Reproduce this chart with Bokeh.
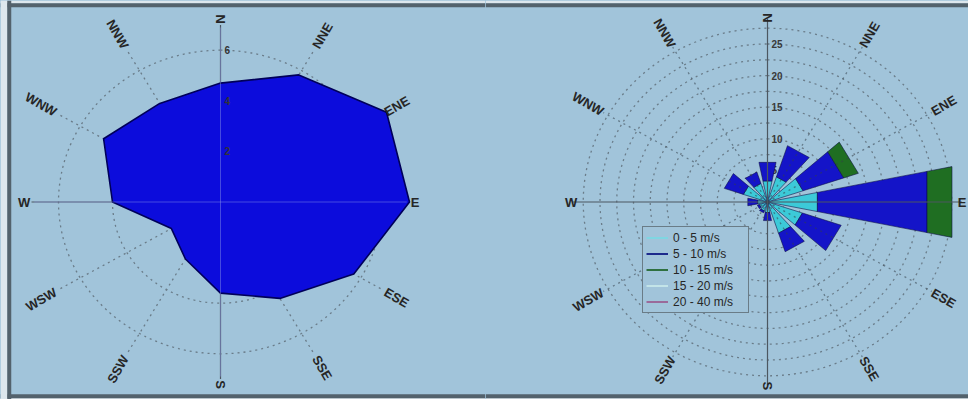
import numpy as np
from bokeh.plotting import figure
from bokeh.layouts import row
from bokeh.models import Span, Legend, LegendItem, Range1d, ColumnDataSource, BoxAnnotation
from bokeh.embed import file_html
from bokeh.resources import INLINE
from bokeh.core.properties import value

# ---------------- data ----------------
directions = ["N", "NNE", "ENE", "E", "ESE", "SSE", "S", "SSW", "WSW", "W", "WNW", "NNW"]
dir_deg = [0, 30, 60, 90, 120, 150, 180, 210, 240, 270, 300, 330]

# left rose: mean value per direction
mean_speed = [4.7, 5.8, 7.1, 7.0, 5.7, 4.4, 3.6, 2.6, 2.1, 4.0, 5.0, 4.5]
left_rings = [2, 4, 6]
left_ring_text = ["2", "4", "6"]

# right rose: frequency (%) per speed bin, stacked
speed_bins = ["0 - 5 m/s", "5 - 10 m/s", "10 - 15 m/s", "15 - 20 m/s", "20 - 40 m/s"]
freq_0_5 = [3.4, 4.2, 5.6, 7.6, 5.5, 5.2, 1.7, 1.5, 1.3, 1.5, 3.8, 3.1]
freq_5_10 = [3.0, 5.2, 6.4, 16.7, 6.1, 3.1, 1.3, 0.3, 0.3, 1.5, 3.0, 1.9]
freq_10_15 = [0, 0, 2.3, 3.8, 0, 0, 0, 0, 0, 0, 0, 0]
freq_15_20 = [0, 0, 0, 0, 0, 0, 0, 0, 0, 0, 0, 0]
freq_20_40 = [0, 0, 0, 0, 0, 0, 0, 0, 0, 0, 0, 0]
right_rings = [2.5, 5, 7.5, 10, 12.5, 15, 17.5, 20, 22.5, 25, 27.5]
right_ring_vals = [5, 10, 15, 20, 25]
right_ring_text = ["5", "10", "15", "20", "25"]

# ---------------- style ----------------
BG = "#a1c4da"
PAGE = "#dde7ed"
GRID = "#6a7c89"
AXIS = "#4c5761"
FRAME = "#53626c"
TXT = "#262626"
FONT = value("Liberation Sans")
bin_colors = ["#3ccad8", "#1414c8", "#1f6e22", "#b7e6e6", "#c070c0"]
legend_colors = ["#7fd6e2", "#1d2a8c", "#2f7040", "#c3e4e8", "#9a6a9a"]

H = 399


def make_fig(width, sx, sy, cx_px, cy_px):
    xr = Range1d(-cx_px / sx, (width - cx_px) / sx)
    yr = Range1d(-(H - cy_px) / sy, cy_px / sy)
    p = figure(width=width, height=H, x_range=xr, y_range=yr,
               x_axis_type=None, y_axis_type=None,
               output_backend="svg", toolbar_location=None,
               min_border=0, styles={"background-color": BG})
    p.outline_line_color = None
    p.background_fill_color = BG
    p.border_fill_color = BG
    # page strips outside the frame line
    p.add_layout(BoxAnnotation(bottom=yr.end - 3 / sy, fill_color=PAGE, fill_alpha=1,
                               line_color=None))
    p.add_layout(BoxAnnotation(top=yr.start + 1.5 / sy, fill_color=PAGE, fill_alpha=1,
                               line_color=None))
    p.add_layout(Span(location=yr.end - 4.75 / sy, dimension="width",
                      line_color=FRAME, line_width=4))
    p.add_layout(Span(location=yr.start + 3.25 / sy, dimension="width",
                      line_color=FRAME, line_width=4))
    return p


def rings(p, radii, color, alpha=1.0):
    t = np.linspace(0, 2 * np.pi, 361)
    p.multi_line([list(r * np.sin(t)) for r in radii],
                 [list(r * np.cos(t)) for r in radii],
                 line_color=color, line_width=1.3, line_dash="2 4", line_alpha=alpha)


def spokes(p, R, color, alpha=1.0):
    diag = [d for d in dir_deg if d % 90 != 0]
    p.multi_line([[0, R * np.sin(np.radians(d))] for d in diag],
                 [[0, R * np.cos(np.radians(d))] for d in diag],
                 line_color=color, line_width=1.3, line_dash="2 4", line_alpha=alpha)


def axes(p, R, color, alpha=1.0, width=1.2):
    p.multi_line([[-R, R], [0, 0]], [[0, 0], [-R, R]],
                 line_color=color, line_width=width, line_alpha=alpha)


def dir_labels(p, R, size="13px"):
    right = [(n, d) for n, d in zip(directions, dir_deg) if d <= 180]
    left = [(n, d) for n, d in zip(directions, dir_deg) if d > 180]
    for grp, align, off in ((right, "left", 0), (left, "right", 180)):
        src = ColumnDataSource(dict(
            x=[R * np.sin(np.radians(d)) for _, d in grp],
            y=[R * np.cos(np.radians(d)) for _, d in grp],
            t=[n for n, _ in grp],
            a=[np.radians(90 - d - off) for _, d in grp]))
        p.text(x="x", y="y", text="t", angle="a", source=src,
               text_align=align, text_baseline="middle",
               text_font=FONT, text_font_style="bold",
               text_font_size=size, text_color=TXT)


# ---------------- left rose ----------------
sxL, syL = 27.0, 25.3
pL = make_fig(485, sxL, syL, 220, 201.5)
pL.add_layout(BoxAnnotation(right=pL.x_range.start + 7 / sxL, fill_color=PAGE, fill_alpha=1,
                            line_color=None))
pL.add_layout(Span(location=pL.x_range.start + 8.75 / sxL, dimension="height",
                   line_color=FRAME, line_width=4))
rings(pL, left_rings, GRID)
spokes(pL, 6.9, GRID)
axes(pL, 7.0, AXIS)
th = np.radians(dir_deg)
pL.patch(list(np.array(mean_speed) * np.sin(th)), list(np.array(mean_speed) * np.cos(th)),
         fill_color="#0c0cdc", line_color="#00005a", line_width=1.6)
axes(pL, 6.9, "#8a96e6", alpha=0.45, width=1.0)
pL.text(x=[0] * len(left_rings), y=left_rings, text=left_ring_text,
        x_offset=4, text_align="left", text_baseline="middle",
        text_font=FONT, text_font_style="bold", text_font_size="10px", text_color="#333333")
dir_labels(pL, 7.05)

# ---------------- right rose ----------------
sxR, syR = 6.7, 6.32
pR = make_fig(483, sxR, syR, 282, 201.5)
rings(pR, right_rings, GRID)
pR.text(x=[0] * len(right_ring_vals), y=right_ring_vals, text=right_ring_text,
        x_offset=4, text_align="left", text_baseline="middle",
        text_font=FONT, text_font_style="bold", text_font_size="10px", text_color="#3a3a3a")

series = [freq_0_5, freq_5_10, freq_10_15, freq_15_20, freq_20_40]
hw = np.radians(11.5)
cum = np.zeros(len(dir_deg))
for vals, col in zip(series, bin_colors):
    xs, ys = [], []
    for i, d in enumerate(dir_deg):
        r0, r1 = cum[i], cum[i] + vals[i]
        if r1 > r0:
            a = np.radians(d)
            angs = [a - hw, a - hw, a + hw, a + hw]
            rads = [r0, r1, r1, r0]
            xs.append([r * np.sin(q) for r, q in zip(rads, angs)])
            ys.append([r * np.cos(q) for r, q in zip(rads, angs)])
    cum = cum + np.array(vals)
    if xs:
        pR.patches(xs, ys, fill_color=col, line_color="#0a0a40", line_width=0.8, line_alpha=0.7)

spokes(pR, 28.3, "#33404a", alpha=0.55)
axes(pR, 29.0, AXIS)
dir_labels(pR, 28.4)

items = []
for lab, col, vals in zip(speed_bins, legend_colors, series):
    # zero-length key line for each speed bin (sits at the rose centre)
    r = pR.line(x=[0, 0], y=[0, 0], line_color=col, line_width=2)
    items.append(LegendItem(label=lab, renderers=[r]))
legend = Legend(items=items, location=(157, 86), margin=0, padding=3, spacing=1,
                glyph_width=22, glyph_height=15, label_height=15, label_width=72,
                label_standoff=5, label_text_font_size="12px", label_text_font="Liberation Sans",
                label_text_color=TXT, border_line_color="#333333", border_line_width=1,
                background_fill_color=BG, background_fill_alpha=1.0)
pR.add_layout(legend)

layout = row(pL, pR, spacing=0, styles={"background-color": BG})
open("out.html", "w").write(file_html(layout, INLINE))
